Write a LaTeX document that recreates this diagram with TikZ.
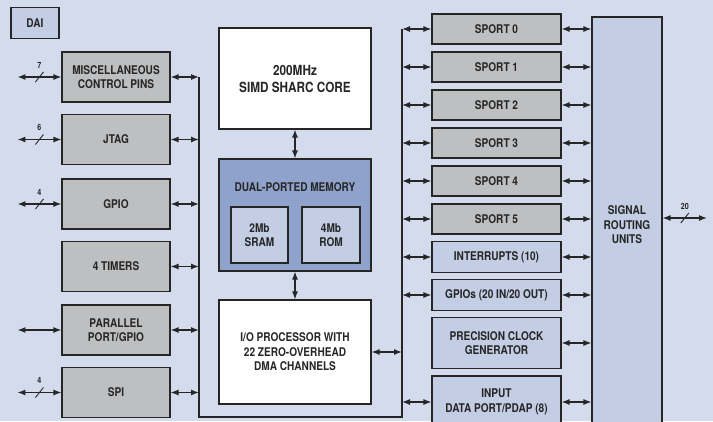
\documentclass[tikz,border=0pt]{standalone}
\usepackage{fontspec}
\setmainfont{TeX Gyre Heros}[FakeStretch=0.84]
\usepackage{tikz}
\usetikzlibrary{arrows.meta,positioning,calc}

\definecolor{bgblue}{HTML}{D3DBEC}
\definecolor{lightblue}{HTML}{C3CDE4}
\definecolor{boxgray}{HTML}{BEBFC1}
\definecolor{memblue}{HTML}{8FA2CB}
\definecolor{ink}{HTML}{262626}

\begin{document}
\begin{tikzpicture}[
                x=1pt, y=-1pt,
                font=\fontsize{12}{14.5}\selectfont\bfseries,
                text=ink,
                box/.style={draw=ink, line width=1.1pt, align=center, inner sep=1pt},
                graybox/.style={box, fill=boxgray},
                bluebox/.style={box, fill=lightblue},
                whitebox/.style={box, fill=white},
                membox/.style={box, fill=memblue},
                dbl/.style={{Latex[length=8pt,width=6pt]}-{Latex[length=8pt,width=6pt]}, line width=1.2pt, draw=ink},
                bus/.style={line width=1.4pt, draw=ink},
                slash/.style={line width=0.9pt, draw=ink},
                numlbl/.style={font=\fontsize{8.5}{10}\selectfont\bfseries, inner sep=1pt}
            ]
            \clip (0,0) rectangle (713,421);
            \fill[bgblue] (0,0) rectangle (713,421);

            \node[bluebox, minimum width=48pt, minimum height=31pt] (dai) at (35,23) {DAI};

            % left column
            \node[graybox, minimum width=108pt, minimum height=50pt] (misc) at (116,77) {MISCELLANEOUS\\CONTROL PINS};
            \node[graybox, minimum width=108pt, minimum height=50pt] (jtag) at (116,139.5) {JTAG};
            \node[graybox, minimum width=108pt, minimum height=50pt] (gpio) at (116,204) {GPIO};
            \node[graybox, minimum width=108pt, minimum height=50pt] (timers) at (116,266.5) {4 TIMERS};
            \node[graybox, minimum width=108pt, minimum height=50pt] (par) at (116,330) {PARALLEL\\PORT/GPIO};
            \node[graybox, minimum width=108pt, minimum height=50pt] (spi) at (116,392.5) {SPI};

            % core, memory, I/O processor
            \node[whitebox, minimum width=152pt, minimum height=101pt, font=\fontsize{14}{17}\selectfont\bfseries] (core) at (295,78.5) {200MHz\\SIMD SHARC CORE};
            \node[membox, minimum width=152pt, minimum height=112pt] (mem) at (295,215) {};
            \node (memlbl) at ([yshift=-29pt]mem.north) {DUAL-PORTED MEMORY};
            \node[bluebox, minimum width=57pt, minimum height=56pt] (sram) at (259.5,235) {2Mb\\SRAM};
            \node[bluebox, minimum width=58pt, minimum height=56pt] (rom) at (331,235) {4Mb\\ROM};
            \node[whitebox, minimum width=152pt, minimum height=104pt] (iop) at (295,352) {I/O PROCESSOR WITH\\22 ZERO-OVERHEAD\\DMA CHANNELS};

            % right column
            \node[graybox, minimum width=129pt, minimum height=30pt] (sport0) at (496.5,29) {SPORT 0};
            \node[graybox, minimum width=129pt, minimum height=30pt] (sport1) at (496.5,67) {SPORT 1};
            \node[graybox, minimum width=129pt, minimum height=30pt] (sport2) at (496.5,105) {SPORT 2};
            \node[graybox, minimum width=129pt, minimum height=30pt] (sport3) at (496.5,143) {SPORT 3};
            \node[graybox, minimum width=129pt, minimum height=30pt] (sport4) at (496.5,181) {SPORT 4};
            \node[graybox, minimum width=129pt, minimum height=30pt] (sport5) at (496.5,219) {SPORT 5};
            \node[bluebox, minimum width=129pt, minimum height=31pt] (irq) at (496.5,257) {INTERRUPTS (10)};
            \node[bluebox, minimum width=129pt, minimum height=31pt] (gpios) at (496.5,295) {GPIOs (20 IN/20 OUT)};
            \node[bluebox, minimum width=129pt, minimum height=51pt] (pcg) at (496.5,343) {PRECISION CLOCK\\GENERATOR};
            \node[bluebox, minimum width=129pt, minimum height=52pt] (pdap) at (496.5,402) {INPUT\\DATA PORT/PDAP (8)};

            \node[bluebox, minimum width=70pt, minimum height=440pt] (sru) at (627,237) {};
            \node[align=center] (srulbl) at (627,225) {SIGNAL\\ROUTING\\UNITS};

            % buses
            \coordinate (lbustop) at (199,77);
            \coordinate (lbusbot) at (199,417);
            \coordinate (rbusbot) at (402,417);
            \coordinate (rbustop) at (402,29);
            \draw[bus] (lbustop) -- (lbusbot) -- (rbusbot) -- (rbustop);

            \foreach \n in {misc,jtag,gpio,timers,par,spi}
                \draw[dbl] (\n.east) -- (\n.east -| lbustop);
            \foreach \n in {sport0,sport1,sport2,sport3,sport4,sport5,irq,gpios,pdap}
                \draw[dbl] (\n.west -| rbustop) -- (\n.west);
            \foreach \n in {sport0,sport1,sport2,sport3,sport4,sport5,irq,gpios,pcg,pdap}
                \draw[dbl] (\n.east) -- (\n.east -| sru.west);

            \draw[dbl] (core.south) -- (mem.north);
            \draw[dbl] (mem.south) -- (iop.north);
            \draw[dbl] (iop.east) -- (iop.east -| rbustop);

            % external pins
            \foreach \n/\w in {misc/7,jtag/6,gpio/4,spi/4} {
                \coordinate (ext\n) at ([xshift=-44pt]\n.west);
                \draw[dbl] (ext\n) -- coordinate (mid\n) (\n.west);
                \draw[slash] ($(mid\n)+(-4,5)$) -- ($(mid\n)+(4,-5)$);
                \node[numlbl] at ($(mid\n)+(0,-12)$) {\w};
            }
            \coordinate (extpar) at ([xshift=-44pt]par.west);
            \draw[dbl] (extpar) -- (par.west);

            \coordinate (extsru) at (707,218);
            \draw[dbl] (sru.east |- extsru) -- coordinate (midsru) (extsru);
            \draw[slash] ($(midsru)+(-4,5)$) -- ($(midsru)+(4,-5)$);
            \node[numlbl] at ($(midsru)+(0,-12)$) {20};
        \end{tikzpicture}
\end{document}
